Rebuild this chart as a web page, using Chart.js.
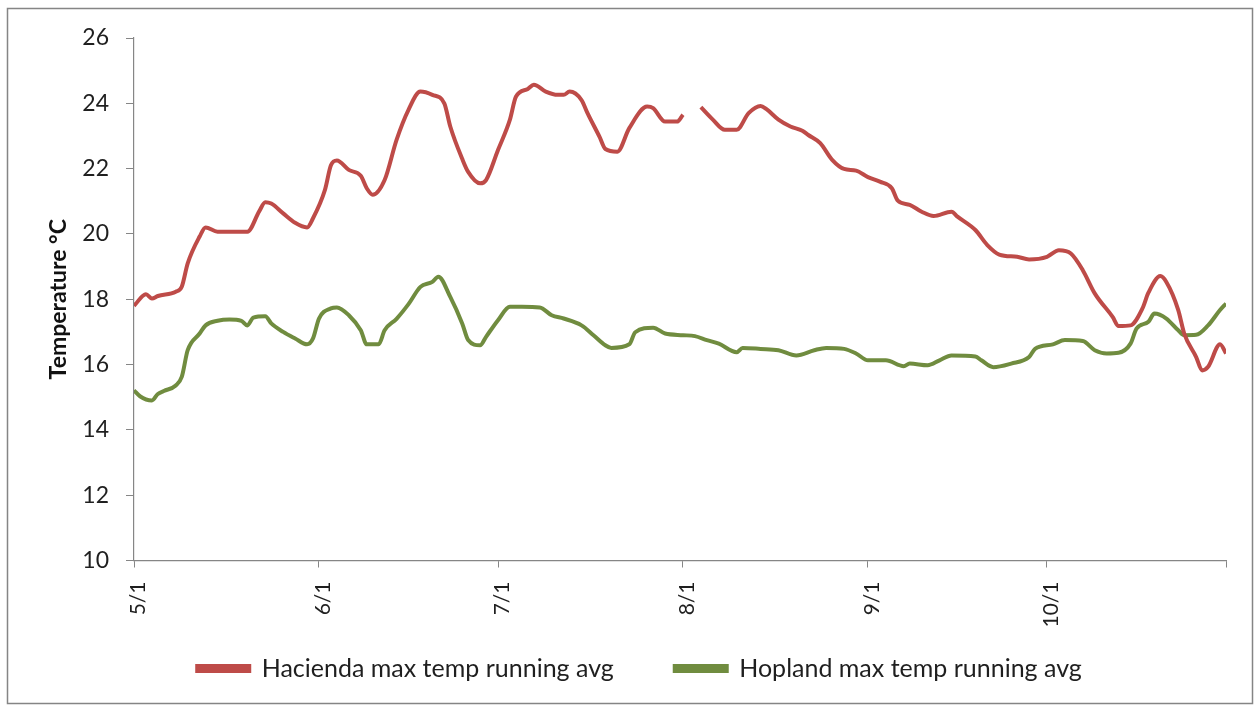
<!DOCTYPE html>
<html>
<head>
<meta charset="utf-8">
<script src="https://cdn.jsdelivr.net/npm/chart.js@4/dist/chart.umd.min.js"></script>
<style>
	html, body { margin: 0; padding: 0; background: #fff; }
	#wrap { width: 1256px; height: 706px; }
</style>
</head>
<body>
<div id="wrap"><canvas id="myChart" width="1256" height="706"></canvas></div>
<script>
	// day index counted from 5/1 (5/1 = 0)
	const tickDays = [0, 31, 61, 92, 123, 153, 183];
	const tickLabels = ['5/1', '6/1', '7/1', '8/1', '9/1', '10/1', ''];

	// Hacienda, null at 93.5 = gap in the record around 8/2
	const haciendaDays = [0, 2, 3, 4, 7, 8, 9, 11, 12, 14, 19, 21, 22, 23, 25, 27, 29, 30, 32, 33, 34, 36, 38, 39, 40, 42, 44, 46, 48, 50, 52, 53, 55, 56, 58, 59, 61, 63, 64, 66, 67, 69, 71, 72, 73, 75, 76, 78, 79, 81, 83, 86, 87, 89, 91, 92, 93.5, 95, 97, 99, 101, 103, 105, 106, 108, 110, 112, 113, 115, 117, 119, 121, 123, 125, 127, 128, 130, 132, 134, 137, 138, 141, 143, 145, 148, 150, 153, 155, 157, 159, 161, 164, 165, 167, 169, 170, 172, 173, 175, 176, 178, 179, 180, 182, 183];
	const haciendaTemps = [17.8, 18.15, 18.02, 18.1, 18.23, 18.38, 19.1, 19.92, 20.2, 20.07, 20.07, 20.7, 20.97, 20.93, 20.63, 20.34, 20.2, 20.48, 21.35, 22.1, 22.25, 21.96, 21.78, 21.4, 21.2, 21.65, 22.88, 23.8, 24.36, 24.26, 24.0, 23.29, 22.3, 21.9, 21.55, 21.65, 22.57, 23.5, 24.2, 24.44, 24.57, 24.36, 24.26, 24.26, 24.36, 24.1, 23.7, 22.98, 22.6, 22.52, 23.24, 23.9, 23.85, 23.44, 23.44, 23.65, null, 23.88, 23.5, 23.19, 23.19, 23.7, 23.92, 23.82, 23.5, 23.29, 23.16, 23.03, 22.78, 22.27, 21.99, 21.94, 21.74, 21.6, 21.4, 21.02, 20.89, 20.68, 20.55, 20.68, 20.53, 20.12, 19.66, 19.37, 19.3, 19.22, 19.3, 19.5, 19.4, 18.89, 18.18, 17.46, 17.18, 17.2, 17.72, 18.2, 18.71, 18.53, 17.67, 16.95, 16.23, 15.82, 15.93, 16.62, 16.34];

	const hoplandDays = [0, 1, 3, 4, 5, 7, 8, 9, 11, 12, 14, 16, 18, 19, 20, 22, 23, 25, 27, 29, 30, 31, 33, 34, 36, 38, 39, 41, 42, 44, 46, 48, 50, 51, 53, 55, 56, 58, 59, 61, 63, 65, 68, 70, 72, 75, 77, 79, 80, 83, 84, 87, 89, 92, 94, 96, 98, 101, 102, 105, 108, 111, 114, 116, 119, 121, 123, 126, 129, 130, 133, 135, 137, 141, 142, 144, 147, 150, 151, 154, 156, 159, 161, 163, 165, 167, 168, 170, 171, 173, 175, 176, 178, 180, 182, 183];
	const hoplandTemps = [15.21, 15.03, 14.9, 15.1, 15.19, 15.36, 15.62, 16.44, 16.95, 17.2, 17.34, 17.38, 17.34, 17.2, 17.44, 17.48, 17.26, 17.0, 16.8, 16.62, 16.8, 17.41, 17.72, 17.75, 17.51, 17.05, 16.62, 16.62, 17.05, 17.4, 17.85, 18.38, 18.53, 18.69, 18.07, 17.26, 16.75, 16.59, 16.85, 17.36, 17.77, 17.77, 17.75, 17.51, 17.41, 17.2, 16.9, 16.59, 16.51, 16.62, 16.99, 17.13, 16.95, 16.9, 16.87, 16.75, 16.64, 16.38, 16.51, 16.48, 16.44, 16.28, 16.44, 16.51, 16.48, 16.34, 16.13, 16.13, 15.95, 16.03, 15.98, 16.13, 16.28, 16.25, 16.13, 15.92, 16.03, 16.23, 16.48, 16.62, 16.75, 16.72, 16.44, 16.34, 16.36, 16.64, 17.1, 17.31, 17.56, 17.41, 17.05, 16.9, 16.91, 17.2, 17.67, 17.87];

	function toPoints(days, temps){
		return days.map((d, i) => ({x: d, y: temps[i]}));
	}

	const frame = {
		id: 'frame',
		beforeDraw(chart){
			let ctx = chart.ctx;
			ctx.save();
			ctx.fillStyle = '#fff';
			ctx.fillRect(0, 0, chart.width, chart.height);
			ctx.restore();
		},
		afterDraw(chart){
			let ctx = chart.ctx;
			ctx.save();
			ctx.strokeStyle = '#858585';
			ctx.lineWidth = 1.5;
			ctx.strokeRect(7.5, 8.5, 1245, 695);
			ctx.restore();
		}
	};

	const font = 'Lato, Carlito, Calibri, sans-serif';

	new Chart(document.getElementById('myChart').getContext('2d'), {
		type: 'line',
		data: {
			datasets: [{
				label: 'Hacienda max temp running avg',
				data: toPoints(haciendaDays, haciendaTemps),
				borderColor: '#BE4B48',
				backgroundColor: '#BE4B48',
				borderWidth: 4,
				pointRadius: 0,
				cubicInterpolationMode: 'monotone',
				spanGaps: false
			}, {
				label: 'Hopland max temp running avg',
				data: toPoints(hoplandDays, hoplandTemps),
				borderColor: '#708C3F',
				backgroundColor: '#708C3F',
				borderWidth: 4,
				pointRadius: 0,
				cubicInterpolationMode: 'monotone'
			}]
		},
		options: {
			responsive: false,
			animation: false,
			// left padding also nudges the centred legend; y axis width makes up for it
			layout: { padding: { top: 38, right: 30, bottom: 15, left: 53 } },
			plugins: {
				tooltip: { enabled: false },
				legend: {
					position: 'bottom',
					labels: {
						boxWidth: 52,
						boxHeight: 5,
						padding: 61,
						color: '#1f1f1f',
						font: { family: font, size: 25 }
					}
				}
			},
			scales: {
				x: {
					type: 'linear',
					min: 0,
					max: 183,
					afterBuildTicks(scale){
						scale.ticks = tickDays.map(v => ({value: v}));
					},
					afterFit(scale){
						// short box so the legend sits close; the labels hang below it
						scale.height = 34.5;
						scale.paddingLeft = 0;
						scale.paddingRight = 0;
						scale._computeLabelArea = () => null;
					},
					ticks: {
						autoSkip: false,
						minRotation: 90,
						maxRotation: 90,
						padding: 14,
						labelOffset: 4,
						color: '#1f1f1f',
						font: { family: font, size: 21 },
						callback: (v, i) => tickLabels[i]
					},
					grid: { drawOnChartArea: false, tickLength: 7, color: '#868686' },
					border: { color: '#868686', width: 1.2 }
				},
				y: {
					min: 10,
					max: 26,
					afterFit(scale){
						scale.width = 81;
					},
					ticks: {
						stepSize: 2,
						padding: 17,
						color: '#1f1f1f',
						font: { family: font, size: 23 }
					},
					grid: { drawOnChartArea: false, tickLength: 8, color: '#868686' },
					border: { color: '#868686', width: 1.2 },
					title: {
						display: true,
						text: 'Temperature °C',
						color: '#111',
						padding: { top: -8, bottom: 0 },
						font: { family: font, size: 23, weight: 'bold' }
					}
				}
			}
		},
		plugins: [frame]
	});
</script>
</body>
</html>
